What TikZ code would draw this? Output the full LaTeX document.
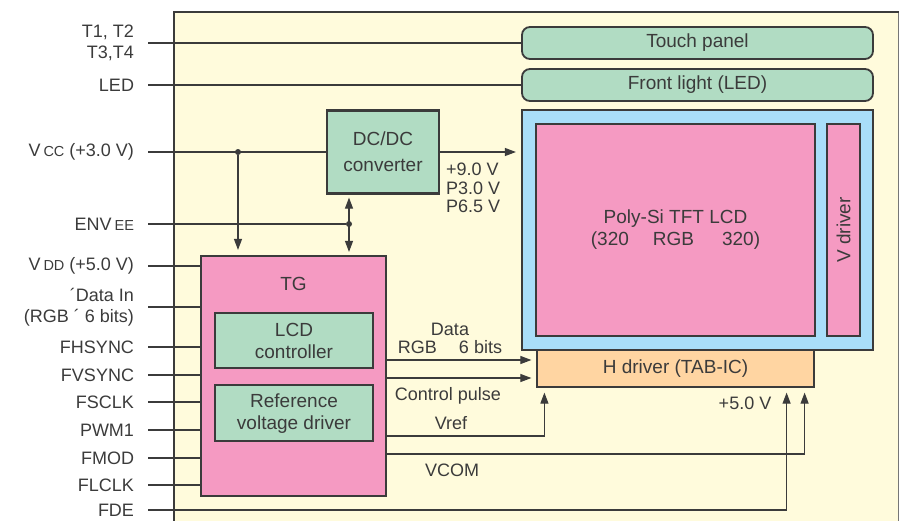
\documentclass[tikz,border=0pt]{standalone}
\usepackage{fontspec}
\setmainfont{Liberation Sans}
\usepackage{tikz}
\usetikzlibrary{arrows.meta,positioning,calc}
\definecolor{Cream}{HTML}{FFFBDC}
\definecolor{Mint}{HTML}{B1DCC3}
\definecolor{Rose}{HTML}{F59AC2}
\definecolor{Sky}{HTML}{A9DEF9}
\definecolor{Peach}{HTML}{FFD5A2}
\definecolor{Ink}{HTML}{3B3B3B}
\newcommand{\lblfont}{\fontsize{18}{21}\selectfont}
\newcommand{\boxfont}{\fontsize{19}{22}\selectfont}
\newcommand{\sm}[1]{{\fontsize{14.5}{14.5}\selectfont #1}}

\begin{document}
\begin{tikzpicture}[x=1pt,y=-1pt,
    box/.style={draw=Ink,line width=2.2pt,inner sep=0pt,align=center,font=\boxfont,text=Ink},
    strip/.style={box,fill=Mint,rounded corners=8pt,line width=1.8pt,minimum width=351pt,minimum height=32pt},
    w/.style={draw=Ink,line width=1.1pt},
    a/.style={w,-{Triangle[length=11pt,width=8pt]}},
    ab/.style={w,{Triangle[length=11pt,width=8pt]}-{Triangle[length=11pt,width=8pt]}},
    lab/.style={anchor=east,align=right,inner xsep=7pt,outer xsep=7pt,inner ysep=0pt,font=\lblfont,text=Ink},
    txt/.style={inner sep=0pt,align=center,font=\lblfont,text=Ink},
    dot/.style={circle,fill=Ink,inner sep=0pt,minimum size=6pt}]
  \useasboundingbox (0,0) rectangle (899,520);
  \fill[Cream] (174,12) rectangle (898,530);
  \draw[Ink!70,line width=1pt] (898,12) -- (898,530);
  \draw[Ink,line width=2.6pt] (174,530) -- (174,12) -- (899,12);

  \node[strip] (touch) at (697.5,43) {Touch panel};
  \node[strip] (front) at (697.5,85) {Front light (LED)};
  \node[box,fill=Peach,line width=1.2pt,minimum width=277pt,minimum height=37pt] (hdrv) at (675.5,368.5) {H driver (TAB-IC)};
  \node[box,fill=Sky,minimum width=351pt,minimum height=240pt] (panel) at (697.5,230) {};
  \node[box,fill=Rose,line width=2pt,minimum width=279pt,minimum height=212pt] (lcd) at (675.5,230)
    {Poly-Si TFT LCD\\(320\hspace{24pt}RGB\hspace{28pt}320)};
  \node[box,fill=Rose,line width=2pt,rotate=90,minimum width=212pt,minimum height=33pt] (vdrv) at (843.5,230) {V driver};

  \node[box,fill=Mint,minimum width=112pt,minimum height=83pt] (dcdc) at (383,152) {DC/DC\\[4pt]converter};
  \node[box,fill=Rose,minimum width=185pt,minimum height=240pt] (tg) at (293.5,376) {};
  \node[txt,font=\boxfont,below=22pt of tg.north] (tglab) {TG};
  \node[box,fill=Mint,minimum width=158pt,minimum height=55pt] (lcdc) at (294,340.5) {LCD\\controller};
  \node[box,fill=Mint,minimum width=158pt,minimum height=56pt,below=15pt of lcdc] (refv) {Reference\\voltage driver};

  \node[lab] (tt) at (148,43) {T1, T2\\T3,T4};
  \node[lab] (led) at (148,85) {LED};
  \node[lab] (vcc) at (148,152) {V\,\sm{CC} (+3.0 V)};
  \node[lab] (env) at (148,224) {ENV\,\sm{EE}};
  \node[lab] (fde) at (148,510) {FDE};
  \foreach \n/\t/\y in {vdd/{V\,\sm{DD} (+5.0 V)}/266, din/{´Data In\\(RGB ´ 6 bits)}/307, fhs/FHSYNC/347,
      fvs/FVSYNC/375, fsc/FSCLK/402, pwm/PWM1/430, fmod/FMOD/458, flc/FLCLK/485}{
    \node[lab] (\n) at (148,\y) {\t};
    \draw[w] (\n.east) -- (\n.east -| tg.west);
  }

  \draw[w] (tt.east) -- (touch.west);
  \draw[w] (led.east) -- (front.west);
  \draw[w] (vcc.east) -- (dcdc.west);
  \node[dot] (j1) at (238,152) {};
  \draw[a,shorten >=5pt] (j1) -- (j1 |- tg.north);
  \draw[a,shorten >=5pt] (dcdc.east) -- (dcdc.east -| panel.west);
  \node[txt,align=left,anchor=west,font=\fontsize{18}{18.5}\selectfont] (volts) at (446,188) {+9.0 V\\P3.0 V\\P6.5 V};
  \node[dot] (j2) at (349,224) {};
  \draw[w] (env.east) -- (j2);
  \draw[ab,shorten <=3pt,shorten >=3pt] (j2 |- dcdc.south) -- (j2 |- tg.north);

  \draw[a,shorten >=5pt] ([yshift=16pt]tg.east) -- ([yshift=16pt]tg.east -| hdrv.west);
  \draw[a,shorten >=5pt] ([yshift=-2pt]tg.east) -- ([yshift=-2pt]tg.east -| hdrv.west);
  \draw[a,shorten >=5pt] ([yshift=-60pt]tg.east) -| ([xshift=8pt]hdrv.south west);
  \draw[a,shorten >=5pt] ([yshift=-78pt]tg.east) -| ([xshift=-10pt]hdrv.south east);
  \draw[a,shorten >=5pt] (fde.east) -| ([xshift=-28pt]hdrv.south east);

  \node[txt,font=\fontsize{18}{18}\selectfont] (dlab) at (450,338) {Data\\RGB\hspace{22pt}6 bits};
  \node[txt] (clab) at (448,396) {Control pulse};
  \node[txt] (vref) at (451,423) {Vref};
  \node[txt] (vcom) at (452,470) {VCOM};
  \node[txt] (p5) at (745,403) {+5.0 V};
\end{tikzpicture}
\end{document}
